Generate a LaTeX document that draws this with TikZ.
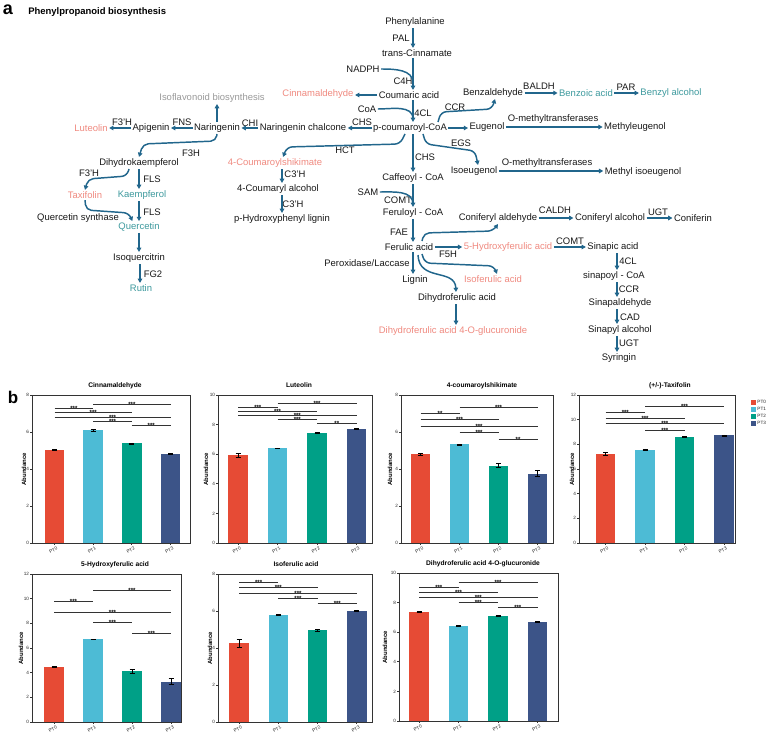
\documentclass[tikz,border=0pt]{standalone}
\usepackage{fontspec}
\setmainfont{Liberation Sans}
\usetikzlibrary{arrows.meta}
\definecolor{lnc}{HTML}{21668C}
\definecolor{pk}{HTML}{F08A80}
\definecolor{tl}{HTML}{3E9A9E}
\definecolor{grt}{HTML}{9A9A9A}
\definecolor{cA}{HTML}{E64B35}
\definecolor{cB}{HTML}{4DBBD5}
\definecolor{cC}{HTML}{00A087}
\definecolor{cD}{HTML}{3C5488}
\tikzset{
 txt/.style={font=\fontsize{7.1}{8}\selectfont, inner sep=1pt, text=black!90},
 pkt/.style={txt, text=pk},
 tlt/.style={txt, text=tl},
 grtt/.style={txt, text=grt},
 arr/.style={draw=lnc, line width=1.1pt, -{Triangle[length=3.2pt,width=3.4pt]}, rounded corners=4pt},
 lnn/.style={draw=lnc, line width=1.1pt, rounded corners=4pt},
 axl/.style={draw=black!80, line width=0.7pt},
 eb/.style={draw=black, line width=0.5pt},
 sg/.style={draw=black!80, line width=0.6pt},
 st/.style={font=\fontsize{4.5}{5}\selectfont\bfseries, inner sep=0pt, anchor=base},
 tk/.style={font=\fontsize{3.5}{4}\selectfont, inner sep=0.5pt, text=black!85},
 ttl/.style={font=\fontsize{5}{6}\selectfont\bfseries, inner sep=0.5pt},
 abl/.style={font=\fontsize{4.5}{5}\selectfont\bfseries, inner sep=0.5pt, rotate=90},
}
\newcommand\chartframe[8]{\def\chN{#1}\def\chL{#2}\def\chR{#3}\def\chT{#4}\def\chB{#5}\def\chM{#6}\def\chO{#7}\def\chD{#8}}
\newcommand\chartbars[1]{\foreach \i/\vv/\ee/\cc in {#1}{
 \pgfmathsetmacro\xc{\chO+\i*\chD}
 \pgfmathsetmacro\yt{\chB-\vv*(\chB-\chT)/\chM}
 \pgfmathsetmacro\ya{\chB-(\vv+\ee)*(\chB-\chT)/\chM}
 \pgfmathsetmacro\yb{\chB-(\vv-\ee)*(\chB-\chT)/\chM}
 \fill[\cc] (\xc-9.8,\chB) rectangle (\xc+9.8,\yt);
 \draw[eb] (\xc,\ya) -- (\xc,\yb) (\xc-2.5,\ya) -- (\xc+2.5,\ya) (\xc-2.5,\yb) -- (\xc+2.5,\yb);
 \draw[axl] (\xc,\chB) -- (\xc,\chB+2);
 \node[tk,rotate=30,anchor=north east] (\chN-x\i) at (\xc+2,\chB+2.5) {PT\i};
}}
\newcommand\chartdeco[4]{%
 \draw[axl] (\chL,\chT) rectangle (\chR,\chB);
 \node[ttl] (\chN-t) at (#1,\chT-9.5) {#2};
 \node[abl] (\chN-a) at (#3,{(\chT+\chB)/2}) {Abundance};
 \foreach \tv in {#4}{
  \pgfmathsetmacro\yy{\chB-\tv*(\chB-\chT)/\chM}
  \draw[axl] (\chL,\yy) -- (\chL-2,\yy);
  \node[tk,anchor=east] (\chN-y\tv) at (\chL-2,\yy) {\tv};
 }}
\newcommand\sig[4]{%
 \pgfmathsetmacro\xa{\chO+#1*\chD}\pgfmathsetmacro\xb{\chO+#2*\chD}
 \draw[sg] (\xa,#3) -- (\xb,#3);
 \node[st] (\chN-s#1#2) at ({(\xa+\xb)/2},#3+2.3) {#4};}
\begin{document}
\begin{tikzpicture}[x=0.75pt,y=-0.75pt]
\fill[white] (0,0) rectangle (767,734);
\path[use as bounding box] (0,0) rectangle (767,734);
% ---------------- panel a
\node[font=\fontsize{13.5}{14}\selectfont\bfseries, inner sep=0pt] (pa) at (8,10) {a};
\node[font=\fontsize{7.1}{8}\selectfont\bfseries, anchor=west, inner sep=0pt] (ptitle) at (28,12) {Phenylpropanoid biosynthesis};
\coordinate (sp) at (413,0);
\coordinate (sx2) at (139,0);
\coordinate (sx3) at (282,0);
\coordinate (sx4) at (617,0);
\coordinate (sx5) at (456,0);
% nodes
\node[txt] (phe) at (415,22) {Phenylalanine};
\node[txt] (pal) at (401,38) {PAL};
\node[txt] (tcin) at (417,53) {trans-Cinnamate};
\node[txt] (nadph) at (363,69) {NADPH};
\node[txt] (c4h) at (403,81) {C4H};
\node[txt] (cou) at (409,95) {Coumaric acid};
\node[pkt] (cinn) at (318,94) {Cinnamaldehyde};
\node[txt] (coa) at (367,109) {CoA};
\node[txt] (cl4a) at (423,113) {4CL};
\node[txt] (pcoa) at (410,128) {p-coumaroyl-CoA};
\node[txt] (chs1) at (362,122) {CHS};
\node[txt] (nchal) at (303,128) {Naringenin chalcone};
\node[txt] (chi) at (250,123) {CHI};
\node[txt] (nar) at (217,128) {Naringenin};
\node[grtt] (iso) at (212,98) {Isoflavonoid biosynthesis};
\node[txt] (fns) at (182,122) {FNS};
\node[txt] (api) at (151,128) {Apigenin};
\node[txt] (f3ha) at (122,122) {F3'H};
\node[pkt] (lut) at (91,128) {Luteolin};
\node[txt] (f3h) at (191,153) {F3H};
\node[txt] (dhk) at (139,163) {Dihydrokaempferol};
\node[txt] (f3hb) at (89,173) {F3'H};
\node[txt] (fls1) at (152,179) {FLS};
\node[pkt] (tax) at (85,195) {Taxifolin};
\node[tlt] (kae) at (142,195) {Kaempferol};
\node[txt] (fls2) at (152,212) {FLS};
\node[txt] (qs) at (78,218) {Quercetin synthase};
\node[tlt] (que) at (139,227) {Quercetin};
\node[txt] (isoq) at (139,258) {Isoquercitrin};
\node[txt] (fg2) at (153,274) {FG2};
\node[tlt] (rut) at (141,288) {Rutin};
\node[txt] (hct) at (345,150) {HCT};
\node[pkt] (cshik) at (275,163) {4-Coumaroylshikimate};
\node[txt] (c3ha) at (295,174) {C3'H};
\node[txt] (calc) at (278,189) {4-Coumaryl alcohol};
\node[txt] (c3hb) at (293,204) {C3'H};
\node[txt] (phl) at (282,219) {p-Hydroxyphenyl lignin};
\node[txt] (chs2) at (425,157) {CHS};
\node[txt] (caf) at (413,178) {Caffeoyl - CoA};
\node[txt] (sam) at (368,192) {SAM};
\node[txt] (comt1) at (398,200) {COMT};
\node[txt] (fer) at (413,213) {Feruloyl - CoA};
\node[txt] (fae) at (399,232) {FAE};
\node[txt] (fa) at (409,247) {Ferulic acid};
\node[txt] (perox) at (367,263) {Peroxidase/Laccase};
\node[txt] (lig) at (415,280) {Lignin};
\node[txt] (f5h) at (448,254) {F5H};
\node[pkt] (hfa) at (508,247) {5-Hydroxyferulic acid};
\node[txt] (comt2) at (570,241) {COMT};
\node[txt] (sin) at (613,247) {Sinapic acid};
\node[txt] (cald) at (498,218) {Coniferyl aldehyde};
\node[txt] (caldh) at (555,210) {CALDH};
\node[txt] (calco) at (610,218) {Coniferyl alcohol};
\node[txt] (ugt1) at (658,212) {UGT};
\node[txt] (conif) at (693,218) {Coniferin};
\node[pkt] (isofa) at (493,279) {Isoferulic acid};
\node[txt] (dhfa) at (457,298) {Dihydroferulic acid};
\node[pkt] (dhfag) at (453,331) {Dihydroferulic acid 4-O-glucuronide};
\node[txt] (cl4b) at (628,261) {4CL};
\node[txt] (sinc) at (614,276) {sinapoyl - CoA};
\node[txt] (ccr2) at (629,289) {CCR};
\node[txt] (sald) at (620,303) {Sinapaldehyde};
\node[txt] (cad) at (630,317) {CAD};
\node[txt] (salc) at (620,330) {Sinapyl alcohol};
\node[txt] (ugt2) at (629,343) {UGT};
\node[txt] (syr) at (619,358) {Syringin};
\node[txt] (benz) at (493,93) {Benzaldehyde};
\node[txt] (baldh) at (539,86) {BALDH};
\node[tlt] (bza) at (586,93) {Benzoic acid};
\node[txt] (par) at (626,87) {PAR};
\node[tlt] (bzal) at (671,93) {Benzyl alcohol};
\node[txt] (ccr1) at (455,107) {CCR};
\node[txt] (eug) at (487,127) {Eugenol};
\node[txt] (omt1) at (553,119) {O-methyltransferases};
\node[txt] (meug) at (635,127) {Methyleugenol};
\node[txt] (egs) at (461,143) {EGS};
\node[txt] (isoe) at (474,171) {Isoeugenol};
\node[txt] (omt2) at (547,163) {O-methyltransferases};
\node[txt] (misoe) at (643,172) {Methyl isoeugenol};
% junction coordinates
\coordinate (j1) at (413,83);
\coordinate (j2) at (413,119);
\coordinate (j3) at (413,204);
% main spine
\draw[arr] (phe.south -| sp) -- (tcin.north -| sp);
\draw[arr] (tcin.south -| sp) -- (cou.north -| sp);
\draw[lnn] (nadph.east) to[out=0,in=90] (j1);
\draw[arr] (cou.west) -- (cinn.east |- cou.west);
\draw[lnn] (coa.east) to[out=0,in=90] (j2);
\draw[arr] (cou.south -| sp) -- (pcoa.north -| sp);
\draw[arr] (pcoa.west) -- (nchal.east |- pcoa.west);
\draw[arr] (nchal.west) -- (nar.east |- nchal.west);
\draw[arr] (nar.north) -- (iso.south -| nar.north);
\draw[arr] (nar.west) -- (api.east |- nar.west);
\draw[arr] (api.west) -- (lut.east |- api.west);
\draw[arr] (nar.south) -- (216,141) -- (143,144) -- (dhk.north);
\draw[arr] (129,169) -- (127,176) -- (88,179) -- (tax.north);
\draw[arr] (dhk.south -| sx2) -- (kae.north -| sx2);
\draw[arr] (kae.south -| sx2) -- (que.north -| sx2);
\draw[arr] (tax.south) -- (86,210) -- (129,213) -- ([xshift=-5pt]que.north);
\draw[arr] (que.south -| sx2) -- (isoq.north -| sx2);
\draw[arr] ([xshift=0.75pt]isoq.south) -- ([xshift=0.75pt]isoq.south |- rut.north);
% HCT branch
\draw[arr] (405,134) -- (400,144) -- (287,147) -- ([xshift=6pt]cshik.north);
\draw[arr] (cshik.south -| sx3) -- (calc.north -| sx3);
\draw[arr] (calc.south -| sx3) -- (phl.north -| sx3);
% lower spine
\draw[arr] (pcoa.south -| sp) -- (caf.north -| sp);
\draw[lnn] (sam.east) to[out=0,in=90] (j3);
\draw[arr] (caf.south -| sp) -- (fer.north -| sp);
\draw[arr] (fer.south -| sp) -- (fa.north -| sp);
\draw[arr] (fa.south -| sp) -- (lig.north -| sp);
\draw[arr] (fa.east) -- (hfa.west |- fa.east);
\draw[arr] (hfa.east) -- (sin.west |- hfa.east);
\draw[arr] (422,241) -- (424,233) -- (493,231) -- (cald.south);
\draw[arr] (cald.east) -- (calco.west |- cald.east);
\draw[arr] (calco.east) -- (conif.west |- calco.east);
\draw[arr] (422,254) -- (425,263) -- (494,266) -- ([xshift=3pt]isofa.north);
\draw[arr] (418,255) .. controls (419,282) and (455,268) .. (dhfa.north -| sx5);
\draw[arr] (dhfa.south -| sx5) -- (dhfag.north -| sx5);
\draw[arr] (sin.south -| sx4) -- (sinc.north -| sx4);
\draw[arr] (sinc.south -| sx4) -- (sald.north -| sx4);
\draw[arr] (sald.south -| sx4) -- (salc.north -| sx4);
\draw[arr] (salc.south -| sx4) -- (syr.north -| sx4);
% right branches
\draw[arr] (438,122) -- (441,112) -- (492,109) -- ([xshift=1.5pt]benz.south);
\draw[arr] (benz.east) -- (bza.west |- benz.east);
\draw[arr] (bza.east) -- (bzal.west |- bza.east);
\draw[arr] (pcoa.east) -- (eug.west |- pcoa.east);
\draw[arr] (eug.east) -- (meug.west |- eug.east);
\draw[arr] (423,134) -- (426,144) -- (475,151) -- ([xshift=3pt]isoe.north);
\draw[arr] (isoe.east) -- (misoe.west |- isoe.east);
% ---------------- panel b
\node[font=\fontsize{12.75}{13}\selectfont\bfseries, inner sep=0pt] (pb) at (13,397) {b};
% chart 1
\chartframe{c1}{32}{190}{395}{543}{8}{54.5}{38.7}
\chartbars{0/5.05/0.03/cA,1/6.1/0.04/cB,2/5.38/0.03/cC,3/4.8/0.03/cD}
\chartdeco{115}{Cinnamaldehyde}{24}{0,2,4,6,8}
\sig{1}{3}{404}{***}\sig{0}{1}{408}{***}\sig{0}{2}{412}{***}\sig{0}{3}{417}{***}\sig{1}{2}{421}{***}\sig{2}{3}{425}{***}
% chart 2
\chartframe{c2}{218}{372}{395}{543}{10}{238}{39.5}
\chartbars{0/5.92/0.13/cA,1/6.4/0.03/cB,2/7.42/0.03/cC,3/7.72/0.02/cD}
\chartdeco{299}{Luteolin}{206}{0,2,4,6,8,10}
\sig{1}{3}{403}{***}\sig{0}{1}{407}{***}\sig{0}{2}{411}{***}\sig{0}{3}{415}{***}\sig{1}{2}{419}{***}\sig{2}{3}{423}{**}
% chart 3
\chartframe{c3}{401}{553}{395}{543}{8}{420.5}{39}
\chartbars{0/4.8/0.05/cA,1/5.33/0.03/cB,2/4.18/0.1/cC,3/3.75/0.17/cD}
\chartdeco{482}{4-coumaroylshikimate}{390}{0,2,4,6,8}
\sig{1}{3}{407}{***}\sig{0}{1}{413}{**}\sig{0}{2}{419}{***}\sig{0}{3}{426}{***}\sig{1}{2}{432}{***}\sig{2}{3}{439}{**}
% chart 4
\chartframe{c4}{579}{735}{395}{543}{12}{605.5}{39.5}
\chartbars{0/7.22/0.1/cA,1/7.58/0.05/cB,2/8.62/0.04/cC,3/8.72/0.04/cD}
\chartdeco{670}{(+/-)-Taxifolin}{572}{0,2,4,6,8,10,12}
\sig{1}{3}{406}{***}\sig{0}{1}{412}{***}\sig{0}{2}{418}{***}\sig{0}{3}{423}{***}\sig{1}{2}{430}{***}
% legend
\foreach \i/\cc in {0/cA,1/cB,2/cC,3/cD}{
 \fill[\cc] (750.5,{399.5+\i*7}) rectangle (755.5,{404.5+\i*7});
 \node[tk,anchor=west] (lg\i) at (756.5,{402+\i*7}) {PT\i};
}
% chart 5
\chartframe{c5}{32}{181}{574}{722}{12}{54}{39}
\chartbars{0/4.45/0.05/cA,1/6.7/0.03/cB,2/4.12/0.15/cC,3/3.27/0.25/cD}
\chartdeco{115}{5-Hydroxyferulic acid}{21}{0,2,4,6,8,10,12}
\sig{1}{3}{590}{***}\sig{0}{1}{601}{***}\sig{0}{3}{612}{***}\sig{1}{2}{622}{***}\sig{2}{3}{633}{***}
% chart 6
\chartframe{c6}{218}{372}{574}{722}{8}{239}{39.3}
\chartbars{0/4.25/0.2/cA,1/5.78/0.03/cB,2/4.95/0.04/cC,3/6.02/0.04/cD}
\chartdeco{296}{Isoferulic acid}{210}{0,2,4,6,8}
\sig{0}{1}{582}{***}\sig{0}{2}{587}{***}\sig{0}{3}{593}{***}\sig{1}{2}{598}{***}\sig{2}{3}{603}{***}
% chart 7
\chartframe{c7}{399}{558}{573}{721}{10}{419}{39.5}
\chartbars{0/7.35/0.03/cA,1/6.42/0.03/cB,2/7.12/0.03/cC,3/6.72/0.03/cD}
\chartdeco{483}{Dihydroferulic acid 4-O-glucuronide}{385}{0,2,4,6,8,10}
\sig{1}{3}{582}{***}\sig{0}{1}{587}{***}\sig{0}{2}{592}{***}\sig{0}{3}{597}{***}\sig{1}{2}{602}{***}\sig{2}{3}{607}{***}
\end{tikzpicture}
\end{document}
